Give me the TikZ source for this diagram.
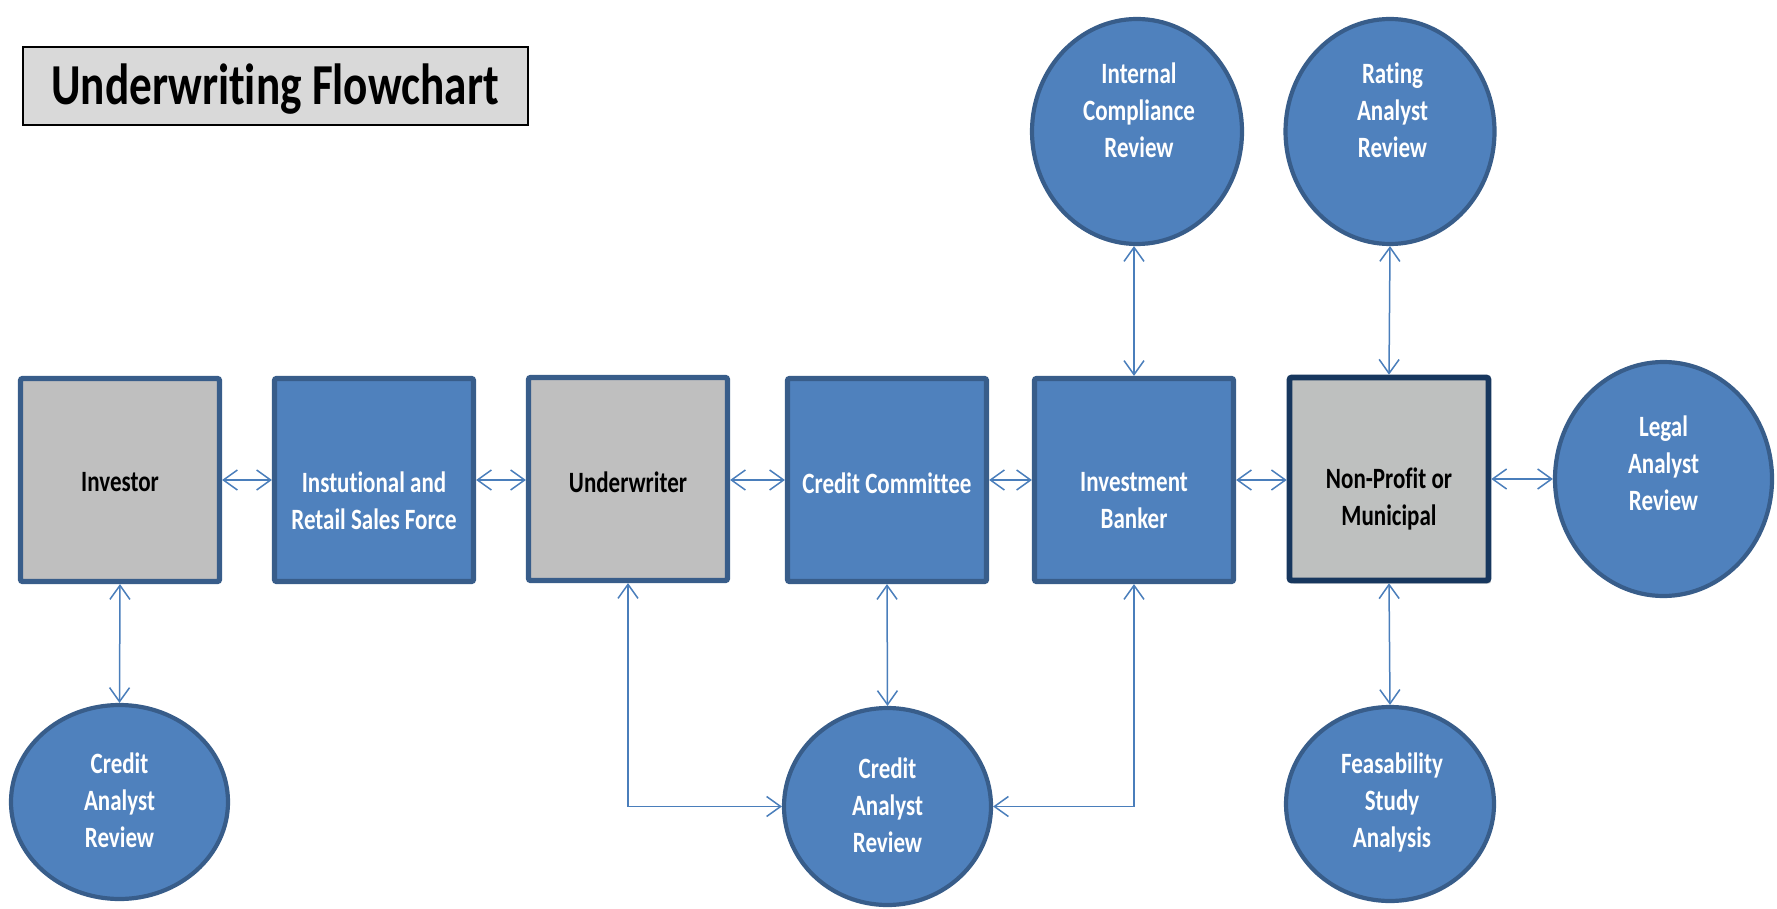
\documentclass[tikz,border=0pt]{standalone}
\usepackage{fontspec}
\setmainfont{Carlito}[FakeStretch=0.78,Ligatures=NoCommon]
\usetikzlibrary{arrows.meta,shapes.geometric,shadows}
\definecolor{bfill}{HTML}{4F81BD}
\definecolor{bline}{HTML}{385D8A}
\definecolor{gfill}{HTML}{BFBFBF}
\definecolor{npfill}{HTML}{BEC0BF}
\definecolor{nline}{HTML}{17375E}
\definecolor{arr}{HTML}{4A7EBB}
\definecolor{tfill}{HTML}{D9D9D9}
\begin{document}
\begin{tikzpicture}[x=0.5pt,y=-0.5pt,
 boxb/.style={draw=bline, line width=2.6pt, fill=bfill, minimum width=99.5pt, minimum height=101.5pt, inner sep=0pt, rounded corners=1pt},
 boxg/.style={boxb, fill=gfill},
 ell/.style={ellipse, draw=bline, line width=2.1pt, fill=bfill, inner sep=0pt},
 wtxt/.style={text=white, font=\bfseries\fontsize{14.75}{18.5}\selectfont, align=center, inner sep=0pt},
 ktxt/.style={wtxt, text=black},
 conn/.style={draw=arr, line width=0.75pt, {Straight Barb[length=7pt,width=10pt]}-{Straight Barb[length=7pt,width=10pt]}}
]
\useasboundingbox (0,0) rectangle (1777,909);

% title
\node[draw=black, line width=1.2pt, fill=tfill, minimum width=252.5pt, minimum height=39pt, inner sep=0pt] (titlebox) at (275.75,86) {};
\node[font=\bfseries\fontsize{29}{34}\selectfont, inner sep=0pt] (title) at (275,89.5) {Underwriting Flowchart};

% boxes
\node[boxg] (inv) at (120,480) {};
\node[boxb] (inst) at (374,480) {};
\node[boxg] (und) at (628,479) {};
\node[boxb] (cc) at (887,480) {};
\node[boxb] (ib) at (1134,480) {};
\node[boxg, fill=npfill, draw=nline, line width=2.8pt, drop shadow={shadow xshift=1.2pt, shadow yshift=-1.5pt, opacity=0.35}] (np) at (1389,479) {};

\node[ktxt] (invt) at (120,482) {Investor};
\node[wtxt] (instt) at (374,501) {Instutional and\\Retail Sales Force};
\node[ktxt] (undt) at (628,482) {Underwriter};
\node[wtxt] (cct) at (887,483) {Credit Committee};
\node[wtxt] (ibt) at (1134,501) {Investment\\Banker};
\node[ktxt] (npt) at (1389,499) {Non-Profit or\\Municipal};

% ellipses
\node[ell, minimum width=108.5pt, minimum height=97pt] (credL) at (119.5,802) {};
\node[ell, minimum width=103.5pt, minimum height=98.5pt] (credM) at (887.5,806.5) {};
\node[ell, minimum width=105pt, minimum height=112.5pt] (ic) at (1137,131.5) {};
\node[ell, minimum width=104.5pt, minimum height=112.5pt] (rat) at (1390,131.5) {};
\node[ell, minimum width=108.5pt, minimum height=117pt] (legal) at (1663.5,479) {};
\node[ell, minimum width=104pt, minimum height=97pt] (feas) at (1390,804) {};

\node[wtxt] (credLt) at (119.5,800) {Credit\\Analyst\\Review};
\node[wtxt] (credMt) at (887.5,805) {Credit\\Analyst\\Review};
\node[wtxt] (ict) at (1139,110) {Internal\\Compliance\\Review};
\node[wtxt] (ratt) at (1392.5,110) {Rating\\Analyst\\Review};
\node[wtxt] (legalt) at (1663.5,463) {Legal\\Analyst\\Review};
\node[wtxt] (feast) at (1392,802) {Feasability\\Study\\Analysis};

% connectors
\draw[conn] (inv.east) -- (inst.west);
\draw[conn] (inst.east) -- (und.west |- inst.east);
\draw[conn] (und.east |- cc.west) -- (cc.west);
\draw[conn] (cc.east) -- (ib.west);
\draw[conn] (ib.east) -- (np.west |- ib.east);
\draw[conn] (np.east) -- (legal.west);
\draw[conn] (inv.south) -- (credL.north);
\draw[conn] (cc.south) -- (credM.north);
\draw[conn] (und.south) |- (credM.west);
\draw[conn] (ib.south) |- (credM.east);
\draw[conn] (ib.north) -- (ic.south -| ib.north);
\draw[conn] (np.north) -- (rat.south);
\draw[conn] (np.south) -- (feas.north);
\end{tikzpicture}
\end{document}
